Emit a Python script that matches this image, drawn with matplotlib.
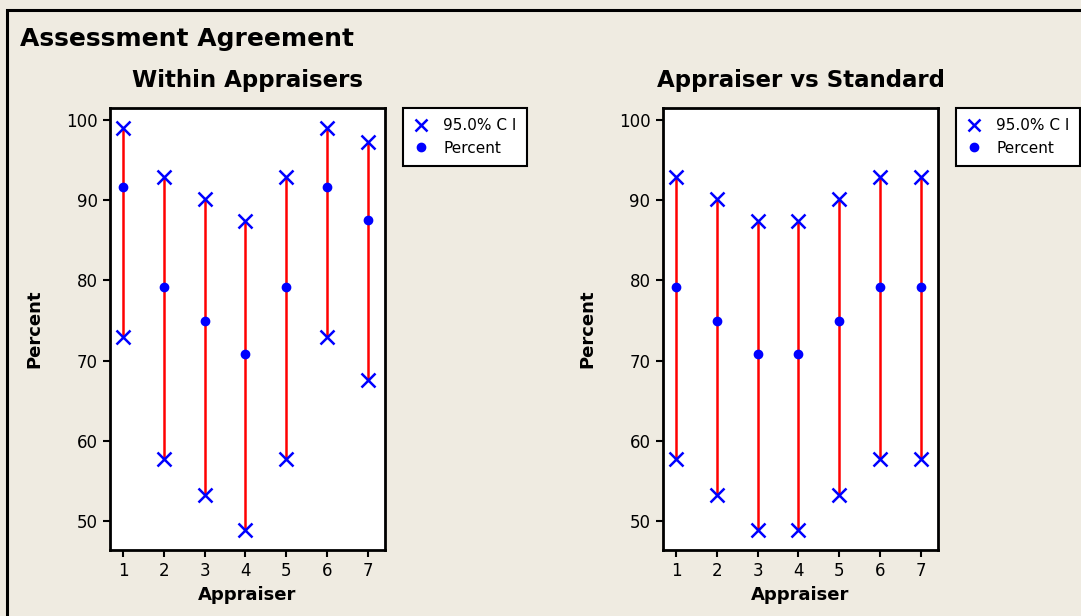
import numpy as np
import matplotlib.pyplot as plt
from matplotlib.patches import Rectangle
from matplotlib.lines import Line2D

appraisers = [1, 2, 3, 4, 5, 6, 7]

# Within appraisers: percent agreement with 95% CI
within_pct = [91.7, 79.2, 75.0, 70.8, 79.2, 91.7, 87.5]
within_lo = [73.0, 57.8, 53.3, 48.9, 57.8, 73.0, 67.6]
within_hi = [99.0, 92.9, 90.2, 87.4, 92.9, 99.0, 97.3]

# Appraiser vs standard
std_pct = [79.2, 75.0, 70.8, 70.8, 75.0, 79.2, 79.2]
std_lo = [57.8, 53.3, 48.9, 48.9, 53.3, 57.8, 57.8]
std_hi = [92.9, 90.2, 87.4, 87.4, 90.2, 92.9, 92.9]

W, H = 1081, 616
bg = '#efebe1'

fig = plt.figure(figsize=(W / 100, H / 100), dpi=100, facecolor=bg)
plt.rcParams['font.family'] = 'DejaVu Sans'

# outer frame
fig.patches.append(Rectangle((7 / W, -0.1), 1.2, 1 - 10 / H + 0.1,
                             transform=fig.transFigure, fill=False,
                             edgecolor='black', linewidth=2.2))

fig.text(20 / W, 1 - 39 / H, 'Assessment Agreement', fontsize=18,
         fontweight='bold', va='center', ha='left')


def panel(left, title, pct, lo, hi, leg_x):
    ax = fig.add_axes([left / W, (H - 550) / H, 275 / W, 442 / H])
    ax.set_facecolor('white')
    x = np.array(appraisers)
    ax.vlines(x, lo, hi, color='red', linewidth=1.8, zorder=1)
    ax.plot(x, lo, 'x', color='blue', markersize=10, markeredgewidth=1.8, zorder=3)
    ax.plot(x, hi, 'x', color='blue', markersize=10, markeredgewidth=1.8, zorder=3)
    ax.plot(x, pct, 'o', color='blue', markersize=6, zorder=3)
    ax.set_xlim(0.68, 7.42)
    ax.set_ylim(46.4, 101.5)
    ax.set_xticks(appraisers)
    ax.set_yticks([50, 60, 70, 80, 90, 100])
    ax.tick_params(direction='out', length=5, width=1.5, labelsize=12,
                   colors='black', pad=4)
    for s in ax.spines.values():
        s.set_linewidth(2)
    ax.set_title(title, fontsize=16.5, fontweight='bold', pad=15)
    ax.set_xlabel('Appraiser', fontsize=13, fontweight='bold', labelpad=4)
    ax.set_ylabel('Percent', fontsize=13, fontweight='bold', labelpad=16)

    handles = [Line2D([], [], linestyle='none', marker='x', color='blue',
                      markersize=9, markeredgewidth=1.8),
               Line2D([], [], linestyle='none', marker='o', color='blue',
                      markersize=6)]
    leg = ax.legend(handles, ['95.0% C I', 'Percent'], loc='upper left',
                    bbox_to_anchor=(leg_x / W, 1 - 108 / H),
                    bbox_transform=fig.transFigure, borderaxespad=0,
                    fancybox=False, framealpha=1, edgecolor='black',
                    fontsize=11, handlelength=1.0, handletextpad=1.0,
                    labelspacing=0.5, borderpad=0.65)
    leg.get_frame().set_linewidth(1.5)
    return ax


panel(110, 'Within Appraisers', within_pct, within_lo, within_hi, 403)
panel(663, 'Appraiser vs Standard', std_pct, std_lo, std_hi, 956)

fig.savefig('out.png', dpi=100, facecolor=bg)
